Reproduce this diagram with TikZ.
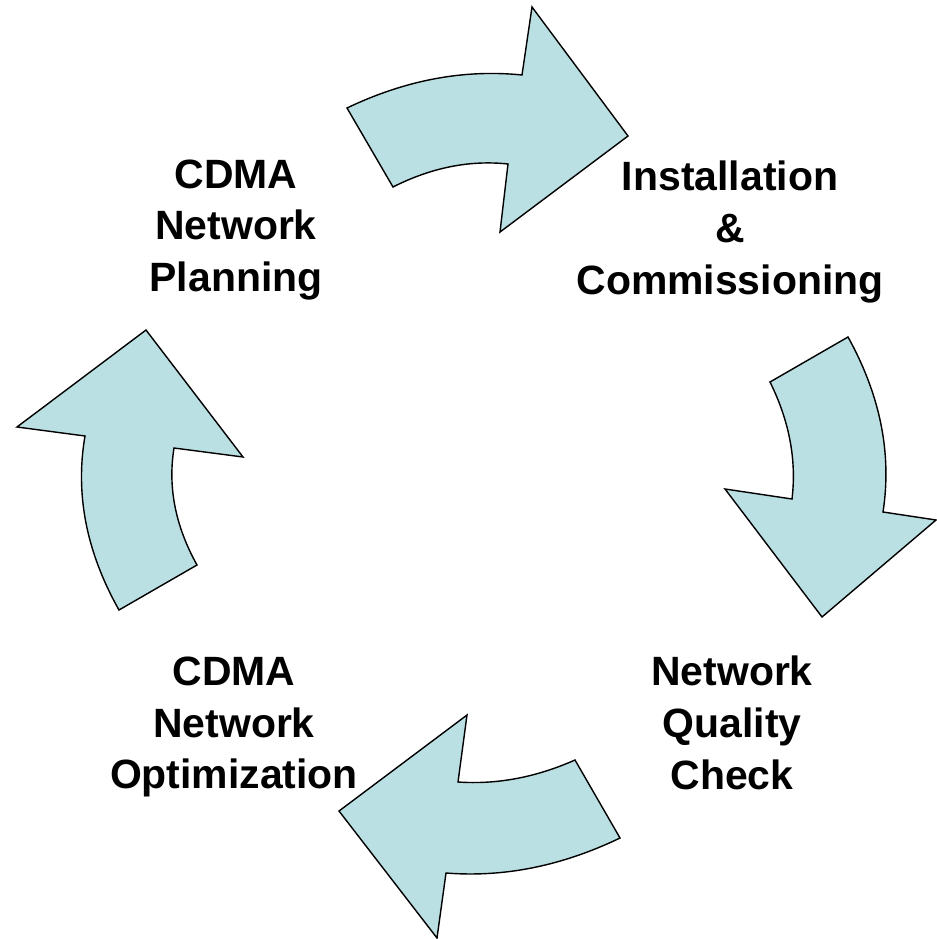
\documentclass[tikz,border=0pt]{standalone}
\usepackage{fontspec}
\setmainfont{Liberation Sans}
\usepackage{tikz}
\usetikzlibrary{positioning}
\definecolor{cyclefill}{RGB}{187,224,227}

\begin{document}
\begin{tikzpicture}[x=0.02cm, y=-0.02cm,
            cycle-arrow/.style={draw=black, line width=0.8pt, fill=cyclefill, line join=miter},
            stage/.style={align=center, inner sep=0pt, font=\bfseries\fontsize{23.3}{29.5}\selectfont}
        ]
        \useasboundingbox (0,0) rectangle (936,939);

        % Stages
        \node[stage] (plan) at (236,230) {CDMA\\Network\\Planning};
        \node[stage] (install) at (730,232) {Installation\\\&\\Commissioning};
        \node[stage] (check) at (732,723) {Network\\Quality\\Check};
        \node[stage] (optim) at (234,727) {CDMA\\Network\\Optimization};

        % Arrows
        \draw[cycle-arrow] (347,108) .. controls (405.3,80.1) and (463.7,69.1) .. (522,75) -- (532,7) -- (628,136)
            -- (500,232) -- (508,164) .. controls (469.7,159.9) and (431.3,167.6) .. (393,187) -- cycle;
        \draw[cycle-arrow] (848,337) .. controls (880.3,395.3) and (892,453.7) .. (883,512) -- (936,520) -- (822,617)
            -- (725,489) -- (792,499) .. controls (796.7,460) and (789.3,421) .. (770,382) -- cycle;
        \draw[cycle-arrow] (575,760) .. controls (536,777.3) and (497,784.7) .. (458,782) -- (467,715) -- (339,811)
            -- (437,938) -- (446,873) .. controls (504,877.6) and (562,865.9) .. (620,838) -- cycle;
        \draw[cycle-arrow] (119,610) .. controls (86.3,552) and (75,494) .. (85,436) -- (17,427) -- (146,330)
            -- (243,457) -- (174,448) .. controls (167.7,487) and (175.3,526) .. (197,565) -- cycle;

    \end{tikzpicture}
\end{document}
